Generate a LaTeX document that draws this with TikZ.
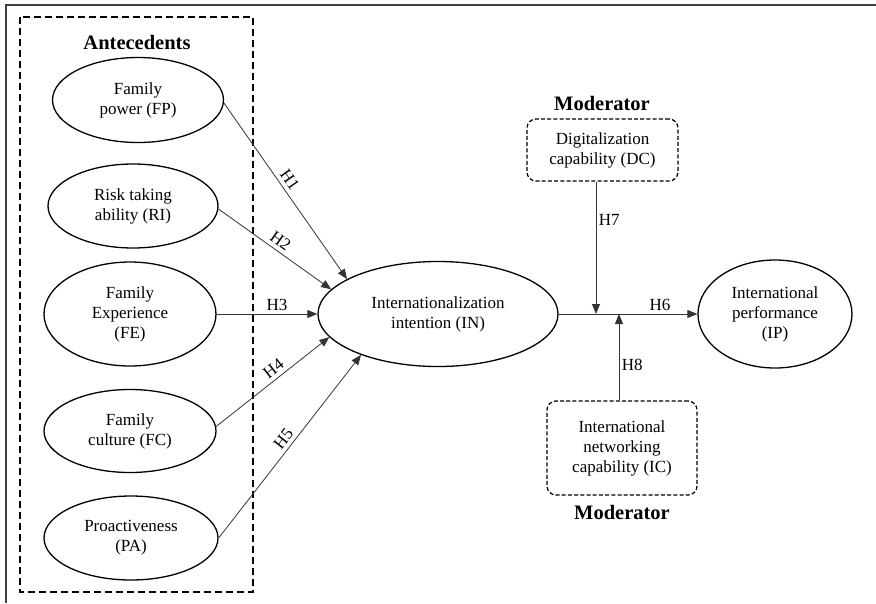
\documentclass[tikz,border=0pt]{standalone}
\usepackage{fontspec}
\setmainfont{Liberation Serif}
\usetikzlibrary{shapes.geometric,arrows.meta}
\tikzset{
  lat/.style={ellipse, draw=black, line width=1.3pt, inner sep=0pt, align=center,
    font=\fontsize{17}{20}\selectfont},
  modbox/.style={rectangle, draw=black, line width=1.2pt, dash pattern=on 4pt off 2.2pt,
    rounded corners=9pt, inner sep=0pt, align=center, font=\fontsize{17}{20}\selectfont},
  heading/.style={font=\fontsize{20.5}{24}\selectfont\bfseries, inner sep=0pt},
  conn/.style={draw=black!80, line width=0.8pt, -{Triangle[length=10pt,width=8pt]}},
  hlab/.style={font=\fontsize{17}{20}\selectfont, inner sep=2.5pt},
  slab/.style={font=\fontsize{17}{20}\selectfont, inner sep=4pt, sloped, above}
}
\begin{document}
\begin{tikzpicture}[x=1pt,y=-1pt]
\useasboundingbox (0,0) rectangle (876,603);
% outer frame (top and left visible)
\draw[line width=1.8pt, black!75] (6,603) -- (6,5) -- (876,5);
% antecedents group
\draw[line width=2.5pt, dash pattern=on 7pt off 4pt] (20,17) rectangle (253,592);
\node[heading] (antlab) at (137,42) {Antecedents};
% antecedent constructs
\node[lat, minimum width=171pt, minimum height=85pt] (FP) at (138,100) {Family\\power (FP)};
\node[lat, minimum width=170pt, minimum height=84pt] (RI) at (133,206) {Risk taking\\ability (RI)};
\node[lat, minimum width=172pt, minimum height=104pt] (FE) at (130,314) {Family\\Experience\\(FE)};
\node[lat, minimum width=172pt, minimum height=83pt] (FC) at (130,431) {Family\\culture (FC)};
\node[lat, minimum width=174pt, minimum height=84pt] (PA) at (131,538) {Proactiveness\\(PA)};
% central construct
\node[lat, minimum width=240pt, minimum height=105pt] (IN) at (438,314) {Internationalization\\intention (IN)};
% outcome
\node[lat, minimum width=154pt, minimum height=108pt] (IP) at (775,314) {International\\performance\\(IP)};
% moderators
\node[modbox, minimum width=151pt, minimum height=62pt] (DC) at (602.5,150) {Digitalization\\capability (DC)};
\node[heading] (modtop) at (602,103) {Moderator};
\node[modbox, minimum width=150pt, minimum height=94pt] (IC) at (622,448) {International\\networking\\capability (IC)};
\node[heading] (modbot) at (622,512) {Moderator};
% junction points on the H6 path
\coordinate (j1) at (596,314);
\coordinate (j2) at (619,314);
% hypotheses H1-H5
\draw[conn] (FP.-2) -- node[slab, pos=0.47] {H1} (IN.159);
\draw[conn] (RI.-2) -- node[slab, pos=0.5] {H2} (IN.167.5);
\draw[conn] (FE.east) -- node[hlab, above, pos=0.6] {H3} (IN.west);
\draw[conn] (FC.3) -- node[slab, pos=0.56] {H4} (IN.192);
\draw[conn] (PA.east) -- node[slab, pos=0.51] {H5} (IN.208.5);
% H6
\draw[conn] (IN.east) -- node[hlab, above, pos=0.73] {H6} (IP.west);
% H7 and H8
\draw[conn] (DC.south -| j1) -- node[hlab, right, pos=0.29] {H7} (j1);
\draw[conn] (IC.north -| j2) -- node[hlab, right, pos=0.41] {H8} (j2);
\end{tikzpicture}
\end{document}
